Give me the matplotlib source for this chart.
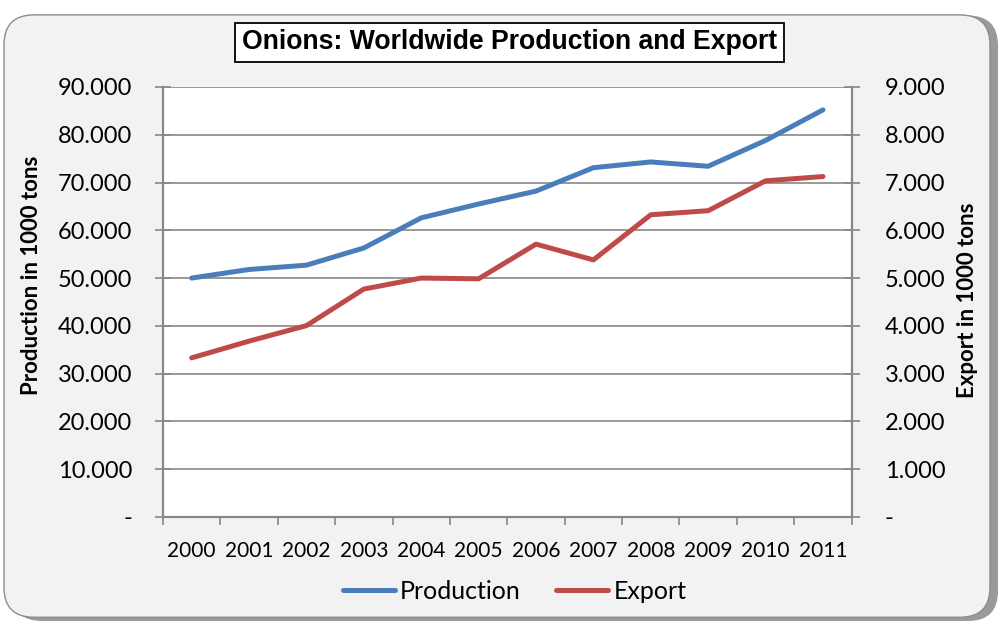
import matplotlib.pyplot as plt
from matplotlib.patches import FancyBboxPatch
from matplotlib.ticker import FuncFormatter, FixedLocator

years = ["2000", "2001", "2002", "2003", "2004", "2005",
         "2006", "2007", "2008", "2009", "2010", "2011"]
production = [50000, 51800, 52700, 56300, 62600, 65500,
              68200, 73100, 74300, 73400, 78800, 85200]
export = [3330, 3680, 4005, 4770, 5000, 4985,
          5710, 5380, 6325, 6410, 7035, 7125]

plt.rcParams['font.family'] = ['Lato', 'DejaVu Sans']

blue = "#4a7ebb"
red = "#be4b48"
grid = "#878787"


def fmt(v, pos):
    if abs(v) < 1e-9:
        return "-"
    return "{:,.0f}".format(v).replace(",", ".")


fig = plt.figure(figsize=(10.01, 6.21), dpi=100)
fig.patch.set_facecolor("white")

# rounded chart area with a soft shadow
shadow = FancyBboxPatch((0.012, 0.0), 0.985, 0.975, boxstyle="round,pad=0,rounding_size=0.03",
                        transform=fig.transFigure, facecolor="#9a9a9a", edgecolor="none",
                        zorder=-3, mutation_aspect=1.6)
bg = FancyBboxPatch((0.004, 0.006), 0.985, 0.97, boxstyle="round,pad=0,rounding_size=0.03",
                    transform=fig.transFigure, facecolor="#f2f2f2", edgecolor="#8c8c8c",
                    linewidth=1.0, zorder=-2, mutation_aspect=1.6)
fig.patches.extend([shadow, bg])

ax = fig.add_axes([0.1628, 0.1675, 0.688, 0.6925])
ax.set_facecolor("white")
x = list(range(len(years)))
ax.plot(x, production, color=blue, lw=3.6, solid_capstyle="round", zorder=3)
ax.set_xlim(-0.5, len(years) - 0.5)
ax.set_ylim(0, 90000)
ax.set_yticks(range(0, 90001, 10000))
ax.yaxis.set_major_formatter(FuncFormatter(fmt))
ax.grid(axis="y", color=grid, lw=1.2)
ax.set_axisbelow(True)

ax.set_xticks(x)
ax.set_xticklabels(years)
ax.tick_params(axis="x", which="major", length=0, pad=17, labelsize=15)
ax.xaxis.set_minor_locator(FixedLocator([i - 0.5 for i in range(len(years) + 1)]))
ax.tick_params(axis="x", which="minor", length=6, color=grid, width=1.2)
ax.tick_params(axis="y", direction="inout", length=12, color=grid, width=1.2,
               labelsize=17, pad=16)

ax.spines["top"].set_visible(False)
for s in ["left", "bottom", "right"]:
    ax.spines[s].set_color(grid)
    ax.spines[s].set_linewidth(1.5)

ax2 = ax.twinx()
ax2.plot(x, export, color=red, lw=3.6, solid_capstyle="round", zorder=3)
ax2.set_ylim(0, 9000)
ax2.set_yticks(range(0, 9001, 1000))
ax2.yaxis.set_major_formatter(FuncFormatter(fmt))
ax2.tick_params(axis="y", direction="inout", length=12, color=grid, width=1.2,
                labelsize=17, pad=18)
ax2.spines["top"].set_visible(False)
for s in ["left", "bottom", "right"]:
    ax2.spines[s].set_color(grid)
    ax2.spines[s].set_linewidth(1.5)

fig.text(32 / 1001, 1 - 275 / 621, "Production in 1000 tons", rotation=90,
         ha="center", va="center", fontsize=16, fontweight="bold")
fig.text(968 / 1001, 1 - 300 / 621, "Export in 1000 tons", rotation=90,
         ha="center", va="center", fontsize=16, fontweight="bold")

fig.text(0.509, 0.932, "Onions: Worldwide Production and Export", ha="center", va="center",
         fontsize=19.2, fontweight="bold", family=['Liberation Sans', 'DejaVu Sans'],
         bbox=dict(boxstyle="square,pad=0.25", facecolor="white", edgecolor="black", lw=1.3))

h1, = ax.plot([], [], color=blue, lw=3.6, solid_capstyle="round")
h2, = ax.plot([], [], color=red, lw=3.6, solid_capstyle="round")
fig.legend([h1, h2], ["Production", "Export"], loc="center", bbox_to_anchor=(0.514, 0.048),
           ncol=2, frameon=False, fontsize=18, handlelength=2.1, handletextpad=0.2,
           columnspacing=1.4)

fig.savefig("out.png", dpi=100, facecolor=fig.get_facecolor())
